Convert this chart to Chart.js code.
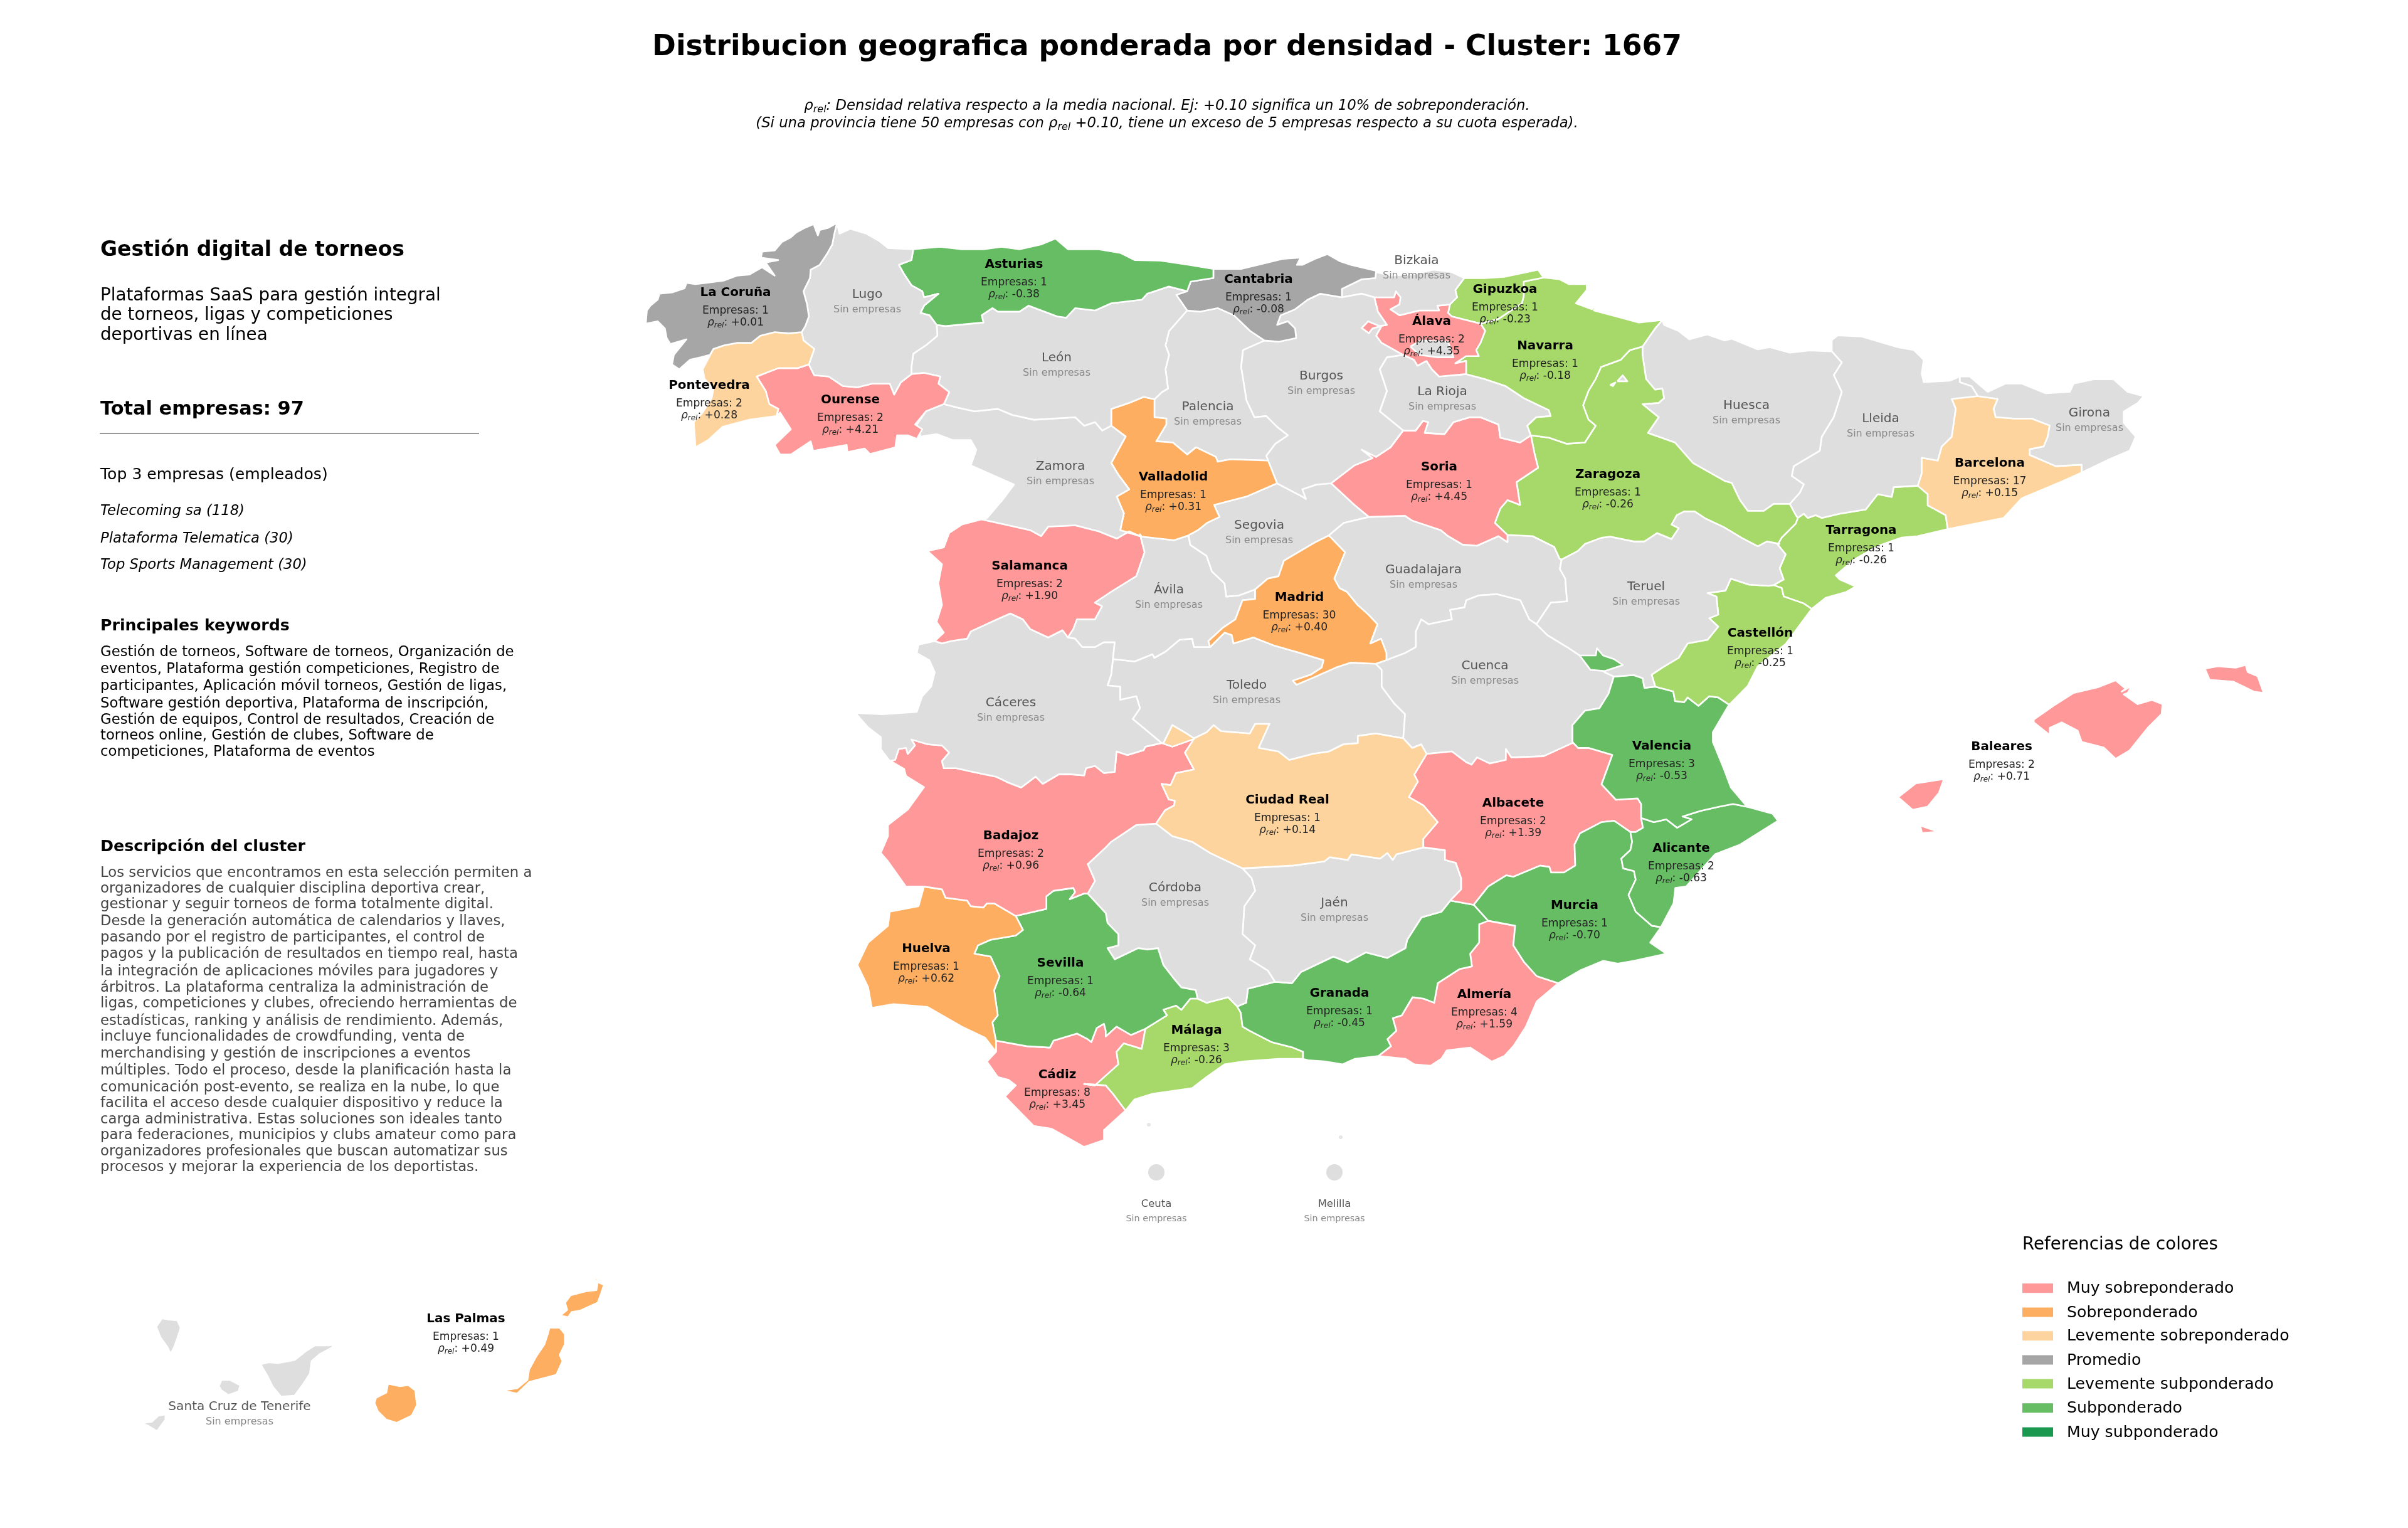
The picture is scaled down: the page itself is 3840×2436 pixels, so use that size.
<!DOCTYPE html>
<html><head><meta charset="utf-8">
<style>html,body{margin:0;padding:0;background:#fff}canvas{display:block}</style>
<script src="https://cdn.jsdelivr.net/npm/chart.js@4"></script></head>
<body><canvas id="c" width="3840" height="2436"></canvas>
<script>
// ---------- values ----------
const categoryNames=['Muy sobreponderado','Sobreponderado','Levemente sobreponderado','Promedio','Levemente subponderado','Subponderado','Muy subponderado'];
const categoryColors=['#ff9999','#fdae61','#fdd49e','#a6a6a6','#a6d96a','#66bd63','#1a9850'];
const noDataColor='#dedede';
const provinceNames=['La Coruña','Asturias','Cantabria','Gipuzkoa','Álava','Navarra','Pontevedra','Ourense','Soria','Zaragoza','Barcelona','Valladolid','Tarragona','Salamanca','Madrid','Castellón','Valencia','Baleares','Ciudad Real','Albacete','Badajoz','Alicante','Huelva','Sevilla','Murcia','Granada','Almería','Málaga','Cádiz','Las Palmas'];
const companyCounts=[1,1,1,1,2,1,2,2,1,1,17,1,1,2,30,1,3,2,1,2,2,2,1,1,1,1,4,3,8,1];
const rhoValues=[0.01,-0.38,-0.08,-0.23,4.35,-0.18,0.28,4.21,4.45,-0.26,0.15,0.31,-0.26,1.90,0.40,-0.25,-0.53,0.71,0.14,1.39,0.96,-0.63,0.62,-0.64,-0.70,-0.45,1.59,-0.26,3.45,0.49];
const provinceCategory=[3,5,3,4,0,4,2,0,0,4,2,1,4,0,1,4,5,0,2,0,0,5,1,5,5,5,0,4,0,1];
const emptyProvinces=['Lugo','León','Zamora','Palencia','Burgos','Bizkaia','La Rioja','Huesca','Lleida','Girona','Segovia','Ávila','Guadalajara','Teruel','Cuenca','Toledo','Cáceres','Córdoba','Jaén','Santa Cruz de Tenerife','Ceuta','Melilla'];
const titleText='Distribucion geografica ponderada por densidad - Cluster: 1667';
const headingText='Gestión digital de torneos';
const summaryLines=['Plataformas SaaS para gestión integral','de torneos, ligas y competiciones','deportivas en línea'];
const totalText='Total empresas: 97';
const topTitle='Top 3 empresas (empleados)';
const topCompanies=['Telecoming sa (118)','Plataforma Telematica (30)','Top Sports Management (30)'];
const keywordsTitle='Principales keywords';
const keywordLines=['Gestión de torneos, Software de torneos, Organización de','eventos, Plataforma gestión competiciones, Registro de','participantes, Aplicación móvil torneos, Gestión de ligas,','Software gestión deportiva, Plataforma de inscripción,','Gestión de equipos, Control de resultados, Creación de','torneos online, Gestión de clubes, Software de','competiciones, Plataforma de eventos'];
const descTitle='Descripción del cluster';
const descLines=['Los servicios que encontramos en esta selección permiten a','organizadores de cualquier disciplina deportiva crear,','gestionar y seguir torneos de forma totalmente digital.','Desde la generación automática de calendarios y llaves,','pasando por el registro de participantes, el control de','pagos y la publicación de resultados en tiempo real, hasta','la integración de aplicaciones móviles para jugadores y','árbitros. La plataforma centraliza la administración de','ligas, competiciones y clubes, ofreciendo herramientas de','estadísticas, ranking y análisis de rendimiento. Además,','incluye funcionalidades de crowdfunding, venta de','merchandising y gestión de inscripciones a eventos','múltiples. Todo el proceso, desde la planificación hasta la','comunicación post-evento, se realiza en la nube, lo que','facilita el acceso desde cualquier dispositivo y reduce la','carga administrativa. Estas soluciones son ideales tanto','para federaciones, municipios y clubs amateur como para','organizadores profesionales que buscan automatizar sus','procesos y mejorar la experiencia de los deportistas.'];
const legendTitle='Referencias de colores';

// ---------- map geometry in crop units ----------
const Z0=[0,0,1,1],Z1=[1000,340,1.742,2.613],Z2=[1850,340,1.742,2.613],Z3=[2650,540,1.568,2.24],Z4=[1350,800,1.742,2.613],Z5=[2100,800,1.742,2.613],Z6=[1350,1150,1.742,2.24],Z7=[2000,1150,1.742,2.24],Z8=[150,2020,1.845,3];
function at(z,f){const r=[];for(let i=0;i<f.length;i+=2)r.push({x:z[0]+f[i]/z[2],y:z[1]+f[i+1]/z[3]});return r;}

const corunaCoast=at(Z1,[583,40,560,60,535,70,530,92,518,45,495,60,470,80,455,100,430,120,410,155,375,160,372,185,420,195,385,205,410,260,375,225,340,255,305,260,270,280,220,290,190,295,165,290,160,312,125,330,90,335,85,360,65,385,55,405,52,460,85,450,105,480,110,520,120,545,165,525,130,590,125,630,145,650,175,610,205,600,230,590,240,565]);
const corunaPonte=at(Z1,[240,565,270,550,305,540,345,540,370,510,410,495,450,500,485,495]);
const corunaLugo=at(Z1,[583,40,575,90,570,130,555,170,535,215,510,235,508,270,490,325,500,380,505,430,495,470,485,495]);
const ponteCoast=at(Z1,[240,565,210,650,215,690,240,730,235,770,210,830,185,870,190,975,225,945,265,890,340,860,415,845]);
const ponteOur=at(Z1,[415,845,420,815,395,795,385,740,360,680,420,645,475,645,505,630]);
const ponteLugo=at(Z1,[505,630,520,565,490,530,485,495]);
const ourCoast=at(Z1,[415,845,425,830,455,900,410,965,425,1005,455,1005,510,950,517,990,610,965,612,995,660,980,675,1003,745,975,750,925,780,925,805,940,820,900,800,880,830,825,880,795]);
const ourLeon=at(Z1,[880,795,895,745,865,710,870,680,825,665,790,670]);
const ourLugo=at(Z1,[790,670,760,705,742,755,730,710,680,710,640,725,600,720,560,680,520,675,505,630]);
const lugoCoast=at(Z1,[583,40,590,85,620,65,665,85,700,115,725,145,795,150]);
const lugoAst=at(Z1,[795,150,790,195,755,215,770,255,790,300,820,325,825,350,865,335,825,385,815,415,840,425,860,465]);
const lugoLeon=at(Z1,[860,465,862,510,830,550,795,585,790,640,790,670]);
const astCoastA=at(Z1,[795,150,830,145,870,140,930,150,990,150,1040,140,1090,150,1150,130,1190,105,1225,150,1310,150,1370,165,1410,195,1481,197]);
const astCoastB=at(Z2,[0,197,80,215,148,232]);
const astCant=at(Z2,[148,232,148,270,125,275,85,285,75,325]);
const astLeon=at(Z1,[860,465,885,470,990,455,985,425,1015,395,1030,410,1090,410,1115,385,1195,430,1220,435,1245,395,1300,405,1345,375,1430,360,1445,335,1505,305,1556,325]);
const cantCoast=at(Z2,[148,232,225,232,285,210,340,190,390,185,380,215,395,215,430,190,465,170,500,200,530,215,600,240,598,270]);
const cantBiz=at(Z2,[598,270,560,275,505,315,505,350]);
const cantBur=at(Z2,[290,530,330,535,378,520,375,480,355,450,325,465,335,425,375,400,410,360,445,335,505,350]);
const cantPal=at(Z2,[75,405,110,410,160,395,205,425,250,490,290,530]);
const cantLeon=at(Z2,[75,405,45,340,75,325]);
const leonZam=at(Z1,[880,795,920,810,965,825,1030,815,1070,840,1130,860,1245,850,1270,885,1300,870,1320,905,1345,885]);
const leonVall=at(Z1,[1345,885,1345,815,1395,790,1435,765,1465,775]);
const leonPal=at(Z2,[-16,775,5,745,22,730,15,650,25,590,15,550,25,490,75,405]);
const zamCoast=at(Z1,[880,795,835,815,805,880,815,930,860,920,905,945,955,945,970,985,955,1050,1000,1080,1075,1130,1045,1190,1000,1270,985,1275]);
const zamVall=at(Z1,[1345,885,1385,930,1345,1040,1365,1090,1395,1150,1360,1180,1380,1250,1370,1320,1425,1345]);
const zamSal=at(Z1,[985,1275,1060,1300,1120,1320,1150,1345,1170,1305,1245,1300,1310,1325,1360,1355,1395,1325,1425,1345]);
const palVallA=at(Z1,[1465,775,1465,850,1498,855,1498,880,1470,950,1516,955]);
const palVallB=at(Z2,[35,955,75,1005,100,975,155,1015,160,1035,195,1025,300,1030]);
const palBur=at(Z2,[290,530,230,570,225,640,240,780,262,850,295,845,325,890,355,925,320,960,295,1010,300,1030]);
const vallBur=at(Z2,[300,1030,308,1060,325,1125]);
const vallSeg=at(Z2,[325,1125,240,1180,150,1215,165,1265,130,1290,105,1320,78,1342]);
const vallAvila=at(Z4,[950,140,910,160,820,145,815,135]);
const burSeg=at(Z2,[325,1125,395,1180,405,1190,395,1150,435,1130,475,1125]);
const burSoria=at(Z2,[475,1125,540,1050,590,1020,560,985,600,1015,640,975,675,905]);
const burRioja=at(Z2,[675,905,610,825,630,740,610,650,630,600,675,590]);
const burAlava=at(Z2,[675,590,615,540,600,510,615,470,590,480,580,500,560,478,578,450,610,470,630,465,605,410,595,350]);
const bizBur=at(Z2,[505,350,560,335,595,350]);
const bizAlava=at(Z2,[595,350,650,350,655,325,668,350,665,380,640,400,665,425,720,405,775,405,770,385,805,380]);
const bizGip=at(Z2,[805,380,825,350,820,320,845,270]);
const bizCoast=at(Z2,[845,270,810,245,760,235,700,255,640,260,600,245,598,270]);
const alavaGip=at(Z2,[805,380,800,415,810,430,890,460]);
const alavaNav=at(Z2,[890,460,903,490,890,540,878,570,885,595,850,595,820,625,850,615,850,670]);
const alavaRioja=at(Z2,[850,670,775,680,755,650,740,615,715,635,705,610,675,590]);
const trevino=at(Z2,[695,555,725,530,800,535,815,600,770,600,720,590,695,555]);
const gipNav=at(Z2,[890,460,940,440,1005,375,1010,345,1010,285,1065,268]);
const gipCoast=at(Z2,[1065,268,1050,235,1020,245,955,265,900,270,845,270]);
const navCoast=at(Z2,[1065,268,1110,275,1135,295,1185,295,1185,320,1155,375,1200,400,1215,370,1205,405,1280,435,1330,455,1395,445]);
const navHue=at(Z2,[1395,445,1375,480,1340,555]);
const navZar=at(Z2,[1340,555,1305,570,1280,610,1225,640,1210,690,1190,740,1175,800,1190,860,1210,885,1180,955,1130,960,1080,935,1030,925]);
const rioZar=at(Z2,[1030,925,1020,885]);
const rioNav=at(Z2,[1020,885,1045,850,1085,845,1080,820,1010,770,960,720,900,690,850,670]);
const rioSoria=at(Z2,[675,905,710,905,730,865,745,870,735,915,790,920,815,870,860,850,890,850,940,880,945,935,1000,955,1030,925]);
const soriaZar=at(Z2,[1030,925,1040,1000,1050,1060,990,1120,1000,1215,965,1195,945,1230,930,1290,965,1340]);
const soriaGua=at(Z2,[965,1340,965,1370,940,1345,880,1385,840,1380,800,1345,780,1320,700,1280,680,1260,580,1265]);
const soriaSeg=at(Z2,[580,1265,540,1215,475,1125]);
const segGua=at(Z2,[580,1265,510,1290,469,1342]);
const zarGua=at(Z2,[965,1340,1035,1345,1095,1390,1110,1440]);
const zarTer=at(Z5,[680,240,725,205,745,175,790,150,815,145,880,165,910,165,945,130,985,155,1005,110,985,95,1000,55,1020,40,1050,40,1080,70,1130,105,1180,150,1225,185,1250,165,1285,175]);
const zarTar=at(Z3,[290,735,300,710,335,660,340,640]);
const zarLle=at(Z3,[340,640,335,630,320,590]);
const zarHueA=at(Z3,[320,590,280,590,255,615,215,615,195,575,175,515]);
const zarHueB=at(Z2,[1568,1115,1480,1040,1430,955,1355,915,1385,850,1340,795,1385,790,1400,770,1395,730,1375,735,1350,690,1345,640,1340,590,1340,555]);
const zarHoleA=at(Z2,[1270,700,1285,675,1298,700,1270,700]);
const zarHoleB=at(Z2,[1250,715,1265,705,1258,720,1250,715]);
const hueTopA=at(Z2,[1395,445,1400,465,1440,490,1470,525,1520,505,1568,530]);
const hueTopB=at(Z3,[175,0,240,38,270,30,320,50,370,42,425,45]);
const hueLle=at(Z3,[425,45,450,85,430,130,450,190,430,280,400,350,395,400,330,455,325,490,355,520,345,550,320,590]);
const lleTop=at(Z3,[425,45,425,5,440,-12,500,-8,590,30,630,40,655,75,650,125,655,155,720,150,745,135]);
const lleGir=at(Z3,[745,135,745,155,775,170,790,205]);
const lleBar=at(Z3,[790,205,725,215,735,250,730,300,725,350,700,385,690,435,650,425,650,480,640,525]);
const lleTar=at(Z3,[640,525,580,530,575,565,540,555,510,610,445,625,400,640,385,630,365,640,355,625,340,640]);
const girBar=at(Z3,[790,205,840,215,830,250,835,280,880,285,925,285,970,310,965,350,955,385,920,395,920,415,985,455,1050,450,1050,478]);
const girCoast=at(Z3,[1050,478,1120,430,1170,400,1185,350,1155,300,1155,260,1190,230,1205,205,1165,190,1130,145,1080,145,1030,160,1020,190,960,195,900,160,860,160,815,190,770,135,745,135]);
const barCoast=at(Z3,[1050,478,1000,510,900,570,855,640,715,680]);
const barTar=at(Z3,[715,680,710,630,665,595,665,555,640,525]);
const tarCoast=at(Z3,[715,680,640,705,600,710,540,740,480,790,435,845,445,860,485,885,460,905,410,925,375,965]);
const tarCas=at(Z3,[375,965,355,945,305,920,300,890,280,880]);
const terTar=at(Z3,[280,880,305,860,295,820,310,770,290,735]);
const terCas=at(Z5,[1269,347,1255,350,1200,345,1150,320,1135,370,1085,380,1110,395,1115,470,1090,485,1115,520,1085,575,1030,590,1005,650,960,690,930,720,940,770]);
const terVal=at(Z5,[825,728,880,722,905,735,910,775,940,770]);
const terCue=at(Z5,[610,510,640,555,695,605,730,640,800,710,825,728]);
const terGua=at(Z5,[610,510,650,420,695,415,690,320,675,280,680,240]);
const ademuz=at(Z5,[730,640,775,640,778,610,795,640,825,655,850,680,800,705,760,700,730,640]);
const castCoast=at(Z3,[375,965,310,1090,240,1170,215,1240,170,1305]);
const castVal=at(Z5,[1145,845,1115,815,1090,810,1060,850,1030,815,1020,835,995,830,990,790,940,770]);
const valCoast=at(Z5,[1145,845,1100,960,1100,1000,1130,1110,1150,1190,1195,1270]);
const valAli=at(Z7,[1370,305,1330,295,1290,305,1240,320,1190,340,1215,350,1175,380,1145,350,1110,360,1075,345]);
const albVal=at(Z7,[1075,345,1075,295,1065,275,1005,280,965,225,995,120,930,95,900,95,885,75]);
const cueVal=at(Z5,[710,1005,710,930,745,870,785,860,810,800,825,728]);
const albAli=at(Z7,[1075,345,1080,380,1060,395,1045,395]);
const aliCoast=at(Z7,[1370,305,1440,330,1455,355,1350,440,1280,475,1200,590,1170,595,1165,650,1130,735]);
const aliMur=at(Z7,[1130,735,1105,730,1060,680,1040,620,1060,565,1055,535,1025,525,1020,490,1045,460,1050,430,1045,395]);
const murCoast=at(Z7,[1130,735,1100,790,1145,830,1055,855,1010,865,970,855,905,890,845,935]);
const murAlm=at(Z7,[845,935,785,910,750,860,720,800,725,730,650,712]);
const murGra=at(Z7,[650,712,610,655]);
const albMur=at(Z7,[1045,395,1000,355,965,360,935,380,905,400,890,440,892,515,860,540,825,540,820,520,795,515,720,555,700,550,650,590,610,655]);
const albGra=at(Z7,[610,655,545,640]);
const albJae=at(Z7,[545,640,575,600,575,560,560,505,530,495,530,460,470,450]);
const albCR=at(Z7,[470,450,470,420,510,360,470,300,430,270,455,215,445,190,480,115]);
const cueAlb=at(Z5,[710,1005,630,1060,540,1065,525,1030,525,1075,480,1090,445,1065,430,1095,415,1085,375,1040,305,1050]);
const crCue=at(Z5,[305,1050,290,1010,265,1025,240,985]);
const cueTol=at(Z5,[240,985,245,885,215,840,180,770,180,700,164,675]);
const madCue=at(Z5,[164,675,193,660]);
const cueGua=at(Z5,[193,660,245,630,275,605,275,540,290,490,310,510,375,490,370,450,410,440,415,410,450,390,500,385,565,410,590,490,610,510]);
const madGua=at(Z4,[1500,660,1500,630,1485,570,1455,590,1475,510,1450,470,1420,430,1390,375,1370,360,1355,320,1385,210,1340,140]);
const segMad=at(Z4,[1340,140,1300,170,1215,245,1200,310,1170,320,1135,365]);
const madTol=at(Z4,[1470,675,1400,670,1360,690,1300,730,1250,762,1240,745,1290,720,1320,690,1325,660,1260,630,1190,600,1130,565,1075,590,1070,555,1050,545,1010,605]);
const avMad=at(Z4,[1010,605,1005,580,1020,560,1045,525,1080,490,1100,410,1135,405,1135,365]);
const avSeg=at(Z4,[1135,365,1090,390,1055,395,1050,340,1015,290,1000,225,955,180,950,140]);
const avTol=at(Z4,[1010,605,965,605,960,570,925,575,885,625,855,650,850,635,800,665,740,655]);
const avCac=at(Z4,[740,655,745,585,715,585,690,605,655,605,635,570,615,565]);
const salAv=at(Z4,[815,135,828,210,805,310,735,375,690,420,710,435,690,490,640,490,630,530,615,565]);
const salCac=at(Z4,[615,565,600,535,560,565,510,530,490,490,455,465,410,495,345,540,335,570,290,580,265,590,245,580]);
const salCoast=at(Z4,[245,580,270,545,250,500,265,430,255,340,265,260,225,205,270,190,285,130,320,95,375,73]);
const tolCac=at(Z4,[740,655,735,720,725,765,760,770,760,825,805,810,815,860,795,905,875,1005]);
const cacBad=at(Z4,[875,1005,830,1020,825,1035,780,1055,750,1040,745,1125,715,1130,690,1100,665,1110,660,1140,620,1135,590,1135,545,1175,525,1145,485,1190,450,1170,415,1145,350,1125,305,1110,270,1110,265,1080,285,1045,265,1015,225,1010,180,990,190,1015,170,1050,165,1025,145,1030,135,1075,120,1080]);
const cacCoast=at(Z4,[120,1080,95,1030,95,980,60,940,25,880,100,885,195,875,210,810,235,770,245,710,230,660,195,630,200,595,245,580]);
const tolCR=at(Z4,[1547,985,1470,965,1420,975,1420,1005,1380,1010,1340,1040,1295,1050,1230,1075,1200,1040,1145,1025,1175,925,1135,925,1120,965,1040,955,1020,930,1000,960,965,985]);
const tolCR2=at(Z4,[965,985,945,965,905,930,880,1005,875,1005]);
const crPieceB=at(Z4,[875,1005,905,1020,965,988]);
const badCR=at(Z4,[965,988,940,1045,965,1115,915,1130,900,1180,875,1175,895,1240,912,1245,910,1265,885,1285,860,1340]);
const crCor=at(Z6,[860,365,905,410,960,430,1010,470,1100,525]);
const crJae=at(Z7,[-32,525,108,515,195,500,210,485,260,495,270,475,350,490,370,470,385,495,395,475,470,450]);
const corBad=at(Z6,[860,365,805,370,770,400,735,430,720,450,670,510,690,570,670,615]);
const sevBad=at(Z6,[670,615,660,615,620,635,635,610,630,595,575,605,555,625,555,670,470,695]);
const badHue=at(Z6,[470,695,410,650,390,650,380,665,345,660,335,640,275,630,265,600,215,590]);
const badCoast=at(Z6,[215,590,165,590,115,500,95,470,115,410,115,370,170,315,215,235,165,195,160,170,120,140]);
const hueSev=at(Z6,[470,695,490,745,470,765,400,780,365,800,355,830,400,840,425,910,410,960,420,1050,405,1075,415,1140]);
const hueCoast=at(Z6,[415,1140,415,1180,385,1130,320,1090,225,1020,130,1010,70,1023,60,950,30,870,60,790,115,730,120,680,200,660,215,590]);
const corSev=at(Z6,[670,615,720,685,725,720,755,760,755,800,725,810,745,850,810,810,835,815,865,810,880,870,910,920,930,950,970,960,975,990]);
const corMal=at(Z6,[975,990,1000,1005,1060,985,1085,1018]);
const corGra=at(Z6,[1085,1018,1110,1005,1115,955,1190,930]);
const corJae=at(Z6,[1100,525,1125,560,1135,605,1105,660,1100,760,1135,800,1120,850,1170,890,1190,930]);
const graJae=at(Z7,[58,930,105,935,130,895,220,840,260,860,310,825,370,845,420,810,425,780,465,700,520,680,545,640]);
const graAlm=at(Z7,[650,712,625,725,625,790,600,830,605,875,570,885,510,935,500,1005,470,990,440,985,410,1050,385,1060,395,1105,370,1135,380,1160,345,1195]);
const almCoast=at(Z7,[345,1195,420,1205,445,1225,490,1230,520,1205,535,1175,600,1165,660,1215,695,1195,720,1160,755,1090,785,1000,845,935]);
const graCoast=at(Z7,[345,1195,280,1205,245,1225,200,1215,150,1210,135,1205]);
const graMal=at(Z6,[1268,1205,1268,1180,1240,1165,1180,1145,1120,1105,1100,1090,1095,1040,1085,1018]);
const malCoast=at(Z6,[1268,1205,1200,1205,1100,1215,1050,1225,1000,1270,960,1310,850,1330,800,1350,775,1390]);
const cadMal=at(Z6,[775,1390,740,1330,720,1300,660,1295,690,1300,755,1225,750,1180,770,1150,820,1170,830,1098]);
const sevMal=at(Z6,[830,1098,890,1050,880,1030,915,1015,930,1030,955,990,975,990]);
const cadSev=at(Z6,[415,1140,500,1160,565,1165,575,1140,640,1115,670,1135,680,1145,695,1095,715,1080,720,1105,720,1125,750,1090,790,1120,830,1098]);
const cadCoast=at(Z6,[775,1390,715,1460,715,1495,660,1520,570,1455,520,1445,440,1340,470,1300,450,1280,420,1270,390,1215,415,1180,415,1140]);
const mallorca=at(Z3,[1135,1220,1160,1250,1150,1260,1175,1240,1165,1265,1155,1270,1190,1305,1225,1290,1252,1305,1250,1340,1215,1390,1170,1470,1135,1500,1105,1460,1050,1440,1040,1400,1000,1370,970,1390,970,1415,930,1370,930,1360,980,1310,1030,1265,1090,1245,1135,1220]);
const menorca=at(Z3,[1358,1178,1390,1170,1435,1175,1460,1165,1465,1190,1490,1205,1505,1265,1480,1260,1430,1225,1370,1218,1358,1178]);
const ibiza=at(Z0,[3027,1271,3055,1249,3100,1242,3092,1264,3074,1286,3050,1291,3027,1271]);
const formentera=at(Z0,[3062,1316,3091,1326,3065,1328,3062,1316]);
const laPalma=at(Z8,[200,245,215,250,245,255,255,290,245,340,235,385,225,415,215,380,195,335,183,285,200,245]);
const tenerife=at(Z8,[490,465,515,455,540,460,590,445,625,400,650,375,690,375,705,372,700,385,665,415,640,450,635,510,615,560,590,615,550,620,525,570,510,520,490,465]);
const gomera=at(Z8,[375,540,400,540,430,565,425,595,395,612,375,590,367,570,375,540]);
const hierro=at(Z8,[210,705,210,730,185,785,160,760,140,745,170,740,190,710,210,705]);
const granCanaria=at(Z8,[865,558,900,570,925,565,945,590,950,660,935,710,890,745,860,730,835,690,825,650,830,625,860,600,865,558]);
const fuerteventura=at(Z8,[1340,290,1370,290,1385,320,1385,370,1370,420,1378,450,1360,515,1280,550,1245,605,1200,590,1245,580,1275,540,1280,490,1300,430,1325,370,1335,320,1340,290]);
const lanzarote=at(Z8,[1482,72,1500,85,1492,125,1482,170,1430,208,1405,215,1395,240,1372,232,1392,205,1386,170,1402,135,1450,115,1478,110,1482,72]);
const graciosa=at(Z8,[1475,50,1482,60,1472,70,1475,50]);
const autonomousCityDots=at(Z0,[1844,1869,2128,1869]);
const isletDots=at(Z0,[2138,1813,1832,1793]);

function ring(...chains){
  const d=(a,b)=>Math.hypot(a.x-b.x,a.y-b.y);let out;
  chains.forEach((c,i)=>{
    if(i===0){const n=chains[1],ne=[n[0],n[n.length-1]];
      const dEnd=Math.min(...ne.map(p=>d(p,c[c.length-1]))),dStart=Math.min(...ne.map(p=>d(p,c[0])));
      out=dEnd<=dStart?[...c]:[...c].reverse();return;}
    const e=out[out.length-1];
    out=out.concat(d(e,c[0])<=d(e,c[c.length-1])?c:[...c].reverse());
  });
  out.push(out[0]);return out;
}
const provinceShapes={
 'La Coruña':[ring(corunaCoast,corunaPonte,corunaLugo)],
 'Pontevedra':[ring(corunaPonte,ponteLugo,ponteOur,ponteCoast)],
 'Lugo':[ring(corunaLugo,ponteLugo,ourLugo,lugoLeon,lugoAst,lugoCoast)],
 'Ourense':[ring(ponteOur,ourLugo,ourLeon,ourCoast)],
 'Asturias':[ring(lugoAst,astCoastA,astCoastB,astCant,astLeon)],
 'León':[ring(lugoLeon,ourLeon,leonZam,leonVall,leonPal,cantLeon,astLeon)],
 'Cantabria':[ring(astCant,cantCoast,cantBiz,cantBur,cantPal,cantLeon)],
 'Zamora':[ring(leonZam,zamVall,zamSal,zamCoast)],
 'Valladolid':[ring(leonVall,palVallA,palVallB,vallBur,vallSeg,vallAvila,zamVall)],
 'Palencia':[ring(cantPal,palBur,palVallB,palVallA,leonPal)],
 'Burgos':[ring(cantBur,bizBur,burAlava,burRioja,burSoria,burSeg,vallBur,palBur)],
 'Bizkaia':[ring(cantBiz,bizBur,bizAlava,bizGip,bizCoast)],
 'Álava':[ring(bizAlava,alavaGip,alavaNav,alavaRioja,burAlava)],
 'Gipuzkoa':[ring(bizGip,alavaGip,gipNav,gipCoast)],
 'Navarra':[ring(gipNav,navCoast,navHue,navZar,rioNav,alavaNav)],
 'La Rioja':[ring(burRioja,alavaRioja,rioNav,rioZar,rioSoria)],
 'Soria':[ring(rioSoria,soriaZar,soriaGua,soriaSeg,burSoria)],
 'Zaragoza':[ring(navZar,rioZar,soriaZar,zarGua,zarTer,zarTar,zarLle,zarHueA,zarHueB)],
 'Huesca':[ring(navHue,hueTopA,hueTopB,hueLle,zarHueA,zarHueB)],
 'Lleida':[ring(hueLle,lleTop,lleGir,lleBar,lleTar,zarLle)],
 'Girona':[ring(lleGir,girBar,girCoast)],
 'Barcelona':[ring(lleBar,girBar,barCoast,barTar)],
 'Tarragona':[ring(lleTar,barTar,tarCoast,tarCas,terTar,zarTar)],
 'Teruel':[ring(zarTer,terTar,terCas,terVal,terCue,terGua)],
 'Castellón':[ring(tarCas,castCoast,castVal,terCas)],
 'Valencia':[ring(terVal,castVal,valCoast,valAli,albVal,cueVal),ademuz],
 'Alicante':[ring(valAli,aliCoast,aliMur,albAli)],
 'Murcia':[ring(aliMur,murCoast,murAlm,murGra,albMur)],
 'Albacete':[ring(cueAlb,albVal,albAli,albMur,albGra,albJae,albCR)],
 'Cuenca':[ring(terCue,cueVal,cueAlb,crCue,cueTol,madCue,cueGua)],
 'Guadalajara':[ring(segGua,soriaGua,zarGua,terGua,cueGua,madGua)],
 'Madrid':[ring(segMad,madGua,madCue,madTol,avMad)],
 'Segovia':[ring(soriaSeg,segGua,segMad,avSeg,vallSeg,burSeg)],
 'Ávila':[ring(vallAvila,avSeg,avMad,avTol,avCac,salAv)],
 'Salamanca':[ring(zamSal,salAv,salCac,salCoast)],
 'Cáceres':[ring(salCac,avCac,tolCac,cacBad,cacCoast)],
 'Toledo':[ring(avTol,madTol,cueTol,tolCR,tolCR2,tolCac)],
 'Ciudad Real':[ring(tolCR,badCR,crCor,crJae,albCR,crCue),ring(tolCR2,crPieceB)],
 'Badajoz':[ring(cacBad,crPieceB,badCR,corBad,sevBad,badHue,badCoast)],
 'Huelva':[ring(badHue,hueSev,hueCoast)],
 'Sevilla':[ring(sevBad,corSev,sevMal,cadSev,hueSev)],
 'Córdoba':[ring(crCor,corJae,corGra,corMal,corSev,corBad)],
 'Jaén':[ring(crJae,albJae,graJae,corJae)],
 'Granada':[ring(graJae,albGra,murGra,graAlm,graCoast,graMal,corGra)],
 'Almería':[ring(murAlm,almCoast,graAlm)],
 'Málaga':[ring(corMal,graMal,malCoast,cadMal,sevMal)],
 'Cádiz':[ring(cadSev,cadMal,cadCoast)],
 'Baleares':[mallorca,menorca,ibiza,formentera],
 'Santa Cruz de Tenerife':[laPalma,tenerife,gomera,hierro],
 'Las Palmas':[granCanaria,fuerteventura,lanzarote,graciosa]
};
const enclaveShapes=[trevino,zarHoleA,zarHoleB];

// ---------- page layout of the labels (not data) ----------
const labelAnchor={'La Coruña':[1173,464],'Asturias':[1617,419],'Pontevedra':[1131,612],'Ourense':[1356,635],'Lugo':[1383,467],'León':[1685,568],'Zamora':[1691,741],'Salamanca':[1642,900],'Valladolid':[1871,758],'Bizkaia':[2259,413],'Cantabria':[2007,443],'Gipuzkoa':[2400,459],'Álava':[2283,510],'Navarra':[2464,549],'Burgos':[2107,597],'Palencia':[1926,646],'La Rioja':[2300,622],'Soria':[2295,742],'Zaragoza':[2564,754],'Segovia':[2008,835],'Guadalajara':[2270,906],'Huesca':[2785,644],'Lleida':[2999,665],'Girona':[3332,656],'Barcelona':[3173,736],'Tarragona':[2968,843],'Castellón':[2807,1007],'Baleares':[3192,1188],'Madrid':[2072,950],'Ávila':[1864,938],'Toledo':[1988,1090],'Cáceres':[1612,1118],'Ciudad Real':[2053,1273],'Badajoz':[1612,1330],'Teruel':[2625,933],'Cuenca':[2368,1059],'Valencia':[2650,1187],'Albacete':[2413,1278],'Alicante':[2681,1350],'Huelva':[1477,1510],'Sevilla':[1691,1533],'Córdoba':[1874,1413],'Jaén':[2128,1437],'Granada':[2136,1581],'Málaga':[1908,1640],'Cádiz':[1686,1711],'Murcia':[2511,1441],'Almería':[2367,1583],'Santa Cruz de Tenerife':[382,2240],'Las Palmas':[743,2100],'Ceuta':[1844,1917],'Melilla':[2128,1917]};
const F='"DejaVu Sans"';
const textNudge=3;

function sizeFor(ctx,style,text,width){ctx.font=`${style} 100px ${F}`;return 100*width/ctx.measureText(text).width;}
function rich(ctx,cx,cy,size,segs,color,center=true){
  const fontOf=s=>`${s[1]?'italic ':''}${s[2]?size*0.7:size}px ${F}`;
  let w=0;segs.forEach(s=>{ctx.font=fontOf(s);w+=ctx.measureText(s[0]).width;});
  let x=center?cx-w/2:cx;ctx.fillStyle=color;ctx.textAlign='left';ctx.textBaseline='middle';
  segs.forEach(s=>{ctx.font=fontOf(s);ctx.fillText(s[0],x,cy+textNudge+(s[2]?size*0.25:0));x+=ctx.measureText(s[0]).width;});
}
const textPlugin={id:'mapText',afterDatasetsDraw(chart){
  const ctx=chart.ctx,X=chart.scales.x,Y=chart.scales.y;
  const px=v=>X.getPixelForValue(v),py=v=>Y.getPixelForValue(v);
  ctx.save();
  const put=(t,x,y,font,color,align='left')=>{ctx.font=font;ctx.fillStyle=color;ctx.textAlign=align;ctx.textBaseline='middle';ctx.fillText(t,px(x),py(y)+textNudge);};
  const sName=sizeFor(ctx,'bold','Barcelona',112),sEmp=sizeFor(ctx,'','Empresas: 17',117),sGray=sizeFor(ctx,'','Guadalajara',122),sSin=sizeFor(ctx,'','Sin empresas',108);
  provinceNames.forEach((n,i)=>{
    const [x,y]=labelAnchor[n];const r=rhoValues[i];
    put(n,x,y,`bold ${sName}px ${F}`,'#000','center');
    put('Empresas: '+companyCounts[i],x,y+29,`${sEmp}px ${F}`,'#222','center');
    rich(ctx,px(x),py(y+47.5),sEmp,[['ρ',1,0],['rel',1,1],[': '+(r>=0?'+':'')+r.toFixed(2),0,0]],'#222');
  });
  emptyProvinces.forEach(n=>{
    const [x,y]=labelAnchor[n];const small=(n==='Ceuta'||n==='Melilla');
    put(n,x,y,`${sGray*(small?0.82:1)}px ${F}`,'#555','center');
    put('Sin empresas',x,y+(small?23:23.5),`${sSin*(small?0.9:1)}px ${F}`,'#888','center');
  });
  put(titleText,1861,73,`bold ${sizeFor(ctx,'bold',titleText,1642)}px ${F}`,'#000','center');
  const sSub=sizeFor(ctx,'italic','Densidad relativa respecto a la media nacional. Ej: +0.10 significa un 10% de sobreponderación.',1108);
  rich(ctx,px(1861),py(166),sSub,[['ρ',1,0],['rel',1,1],[': Densidad relativa respecto a la media nacional. Ej: +0.10 significa un 10% de sobreponderación.',1,0]],'#000');
  rich(ctx,px(1861),py(194),sSub,[['(Si una provincia tiene 50 empresas con ',1,0],['ρ',1,0],['rel',1,1],[' +0.10, tiene un exceso de 5 empresas respecto a su cuota esperada).',1,0]],'#000');
  const L=160;
  put(headingText,L,396,`bold ${sizeFor(ctx,'bold',headingText,485)}px ${F}`,'#000');
  const sSum=sizeFor(ctx,'',summaryLines[0],543);
  [469,500,532].forEach((y,i)=>put(summaryLines[i],L,y,`${sSum}px ${F}`,'#000'));
  put(totalText,L,650,`bold ${sizeFor(ctx,'bold',totalText,325)}px ${F}`,'#000');
  ctx.strokeStyle='#999';ctx.lineWidth=2;ctx.beginPath();ctx.moveTo(px(159),py(691));ctx.lineTo(px(764),py(691));ctx.stroke();
  put(topTitle,L,754.5,`${sizeFor(ctx,'',topTitle,363)}px ${F}`,'#000');
  const sTop=sizeFor(ctx,'italic',topCompanies[0],230);
  [812,856,898].forEach((y,i)=>put(topCompanies[i],L,y,`italic ${sTop}px ${F}`,'#000'));
  put(keywordsTitle,L,995,`bold ${sizeFor(ctx,'bold',keywordsTitle,302)}px ${F}`,'#000');
  const sKey=sizeFor(ctx,'',keywordLines[0],660);
  [1037,1064,1091,1119,1145,1170,1196].forEach((y,i)=>put(keywordLines[i],L,y,`${sKey}px ${F}`,'#000'));
  put(descTitle,L,1347.5,`bold ${sizeFor(ctx,'bold',descTitle,327)}px ${F}`,'#000');
  const sDesc=sizeFor(ctx,'',descLines[0],689);
  [1389,1414.5,1439.5,1466.5,1492,1518,1546,1572.5,1597.5,1625,1650,1677,1704,1731,1756,1782,1807,1833,1858].forEach((y,i)=>put(descLines[i],L,y,`${sDesc}px ${F}`,'#444'));
  put(legendTitle,3225,1982,`${sizeFor(ctx,'',legendTitle,312)}px ${F}`,'#000');
  const sLeg=sizeFor(ctx,'',categoryNames[2],355);
  [2051.7,2090,2127.7,2166,2204,2242.7,2281].forEach((y,i)=>{
    ctx.fillStyle=categoryColors[i];ctx.fillRect(px(3225),py(y-5.5),49,15);
    put(categoryNames[i],3296,y,`${sLeg}px ${F}`,'#000');
  });
  ctx.restore();
}};

// ---------- chart ----------
function colorOf(name){const i=provinceNames.indexOf(name);return i>=0?categoryColors[provinceCategory[i]]:noDataColor;}
const datasets=[];
const shapeDs=(label,data,color)=>({label,data,type:'scatter',showLine:true,fill:'shape',tension:0,backgroundColor:color,borderColor:'#fff',borderWidth:2.6,borderJoinStyle:'round',pointRadius:0,pointHoverRadius:0,clip:false,spanGaps:false});
enclaveShapes.forEach((s,i)=>datasets.push(shapeDs('enclave'+i,s,noDataColor)));
datasets.push(shapeDs('Rincón de Ademuz',ademuz,colorOf('Valencia')));
datasets.push({label:'Ceuta y Melilla',data:autonomousCityDots,type:'scatter',showLine:false,pointRadius:13,backgroundColor:noDataColor,borderWidth:0,clip:false});
datasets.push({label:'Islotes',data:isletDots,type:'scatter',showLine:false,pointRadius:3,backgroundColor:'#e6e6e6',borderWidth:0,clip:false});
Object.keys(provinceShapes).forEach(name=>provinceShapes[name].forEach(s=>{if(s!==ademuz)datasets.push(shapeDs(name,s,colorOf(name)));}));

new Chart(document.getElementById('c').getContext('2d'),{
  type:'scatter',
  data:{datasets},
  options:{responsive:false,animation:false,devicePixelRatio:1,events:[],
    layout:{padding:0,autoPadding:false},
    scales:{x:{type:'linear',min:0,max:3840,display:false},y:{type:'linear',min:0,max:2436,reverse:true,display:false}},
    plugins:{legend:{display:false},title:{display:false},tooltip:{enabled:false},filler:{propagate:false}}},
  plugins:[textPlugin]
});
</script></body></html>
